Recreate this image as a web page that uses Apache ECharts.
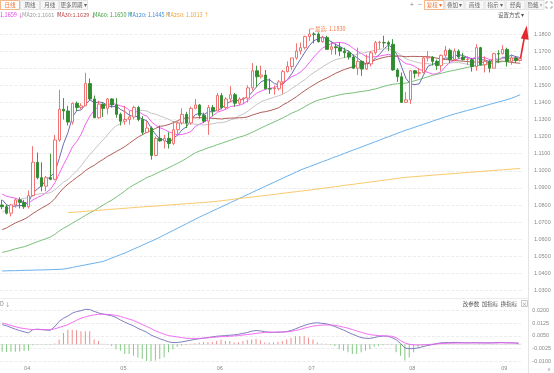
<!DOCTYPE html>
<html><head><meta charset="utf-8">
<script src="https://cdn.jsdelivr.net/npm/echarts@6/dist/echarts.min.js"></script>
<style>html,body{margin:0;padding:0;background:#fff;overflow:hidden}#c{width:554px;height:373px}</style>
</head><body><div id="c"></div>
<script>
// ---------- data (EUR/USD daily) ----------
const dates = [
"2025-03-25","2025-03-26","2025-03-27","2025-03-28","2025-03-31",
"2025-04-01","2025-04-02","2025-04-03","2025-04-04","2025-04-07","2025-04-08","2025-04-09","2025-04-10","2025-04-11","2025-04-14","2025-04-15","2025-04-16","2025-04-17","2025-04-18","2025-04-21","2025-04-22","2025-04-23","2025-04-24","2025-04-25","2025-04-28","2025-04-29","2025-04-30",
"2025-05-01","2025-05-02","2025-05-05","2025-05-06","2025-05-07","2025-05-08","2025-05-09","2025-05-12","2025-05-13","2025-05-14","2025-05-15","2025-05-16","2025-05-19","2025-05-20","2025-05-21","2025-05-22","2025-05-23","2025-05-26","2025-05-27","2025-05-28","2025-05-29","2025-05-30",
"2025-06-02","2025-06-03","2025-06-04","2025-06-05","2025-06-06","2025-06-09","2025-06-10","2025-06-11","2025-06-12","2025-06-13","2025-06-16","2025-06-17","2025-06-18","2025-06-19","2025-06-20","2025-06-23","2025-06-24","2025-06-25","2025-06-26","2025-06-27","2025-06-30",
"2025-07-01","2025-07-02","2025-07-03","2025-07-04","2025-07-07","2025-07-08","2025-07-09","2025-07-10","2025-07-11","2025-07-14","2025-07-15","2025-07-16","2025-07-17","2025-07-18","2025-07-21","2025-07-22","2025-07-23","2025-07-24","2025-07-25","2025-07-28","2025-07-29","2025-07-30","2025-07-31",
"2025-08-01","2025-08-04","2025-08-05","2025-08-06","2025-08-07","2025-08-08","2025-08-11","2025-08-12","2025-08-13","2025-08-14","2025-08-15","2025-08-18","2025-08-19","2025-08-20","2025-08-21","2025-08-22","2025-08-25","2025-08-26","2025-08-27","2025-08-28","2025-08-29",
"2025-09-01","2025-09-02","2025-09-03","2025-09-04","2025-09-05"];

const opens = [
1.0800,1.0790,1.0752,1.0800,1.0830,1.0815,1.0790,1.0855,1.1050,1.0960,
1.0910,1.0960,1.0950,1.1180,1.1360,1.1350,1.1285,1.1395,1.1370,1.1380,
1.1510,1.1420,1.1310,1.1390,1.1365,1.1420,1.1385,1.1330,1.1290,1.1300,
1.1315,1.1370,1.1300,1.1225,1.1250,1.1090,1.1190,1.1175,1.1190,1.1160,
1.1240,1.1280,1.1330,1.1280,1.1365,1.1385,1.1325,1.1290,1.1370,1.1350,
1.1440,1.1370,1.1420,1.1445,1.1395,1.1420,1.1425,1.1485,1.1585,1.1550,
1.1560,1.1480,1.1480,1.1480,1.1520,1.1580,1.1610,1.1660,1.1700,1.1720,
1.1785,1.1800,1.1800,1.1755,1.1780,1.1710,1.1725,1.1720,1.1700,1.1690,
1.1665,1.1600,1.1640,1.1595,1.1625,1.1690,1.1750,1.1750,1.1750,1.1740,
1.1590,1.1550,1.1400,1.1415,1.1585,1.1570,1.1575,1.1660,1.1665,1.1640,
1.1615,1.1675,1.1705,1.1650,1.1700,1.1665,1.1650,1.1650,1.1610,1.1720,
1.1620,1.1640,1.1600,1.1685,1.1685,1.1710,1.1640,1.1660,1.1645];
const highs = [
1.0830,1.0800,1.0805,1.0840,1.0845,1.0830,1.0885,1.1144,1.1107,1.1050,
1.0970,1.1100,1.1210,1.1474,1.1425,1.1380,1.1400,1.1405,1.1395,1.1573,
1.1540,1.1440,1.1410,1.1395,1.1425,1.1425,1.1425,1.1340,1.1380,1.1350,
1.1380,1.1380,1.1320,1.1290,1.1260,1.1200,1.1265,1.1210,1.1225,1.1290,
1.1290,1.1365,1.1345,1.1375,1.1420,1.1390,1.1340,1.1385,1.1385,1.1455,
1.1455,1.1430,1.1495,1.1455,1.1430,1.1430,1.1500,1.1630,1.1615,1.1615,
1.1590,1.1540,1.1500,1.1530,1.1590,1.1640,1.1660,1.1745,1.1750,1.1790,
1.1830,1.1810,1.1810,1.1790,1.1790,1.1760,1.1745,1.1750,1.1720,1.1700,
1.1680,1.1720,1.1645,1.1680,1.1700,1.1760,1.1760,1.1790,1.1760,1.1770,
1.1600,1.1575,1.1460,1.1590,1.1590,1.1600,1.1670,1.1700,1.1670,1.1650,
1.1680,1.1730,1.1715,1.1715,1.1710,1.1690,1.1670,1.1660,1.1740,1.1725,
1.1670,1.1650,1.1690,1.1705,1.1735,1.1720,1.1680,1.1670,1.1660];
const lows = [
1.0775,1.0745,1.0733,1.0785,1.0780,1.0777,1.0780,1.0850,1.0950,1.0880,
1.0880,1.0945,1.0945,1.1170,1.1300,1.1265,1.1270,1.1350,1.1360,1.1380,
1.1410,1.1310,1.1305,1.1315,1.1330,1.1370,1.1310,1.1265,1.1270,1.1270,
1.1300,1.1290,1.1210,1.1220,1.1065,1.1085,1.1170,1.1130,1.1130,1.1150,
1.1210,1.1270,1.1250,1.1270,1.1360,1.1305,1.1280,1.1210,1.1320,1.1350,
1.1360,1.1360,1.1400,1.1375,1.1385,1.1390,1.1400,1.1470,1.1490,1.1540,
1.1475,1.1450,1.1445,1.1470,1.1450,1.1575,1.1590,1.1650,1.1680,1.1710,
1.1760,1.1745,1.1750,1.1750,1.1710,1.1680,1.1680,1.1670,1.1660,1.1650,
1.1595,1.1560,1.1555,1.1590,1.1610,1.1680,1.1710,1.1720,1.1700,1.1585,
1.1520,1.1400,1.1400,1.1390,1.1540,1.1550,1.1570,1.1640,1.1615,1.1590,
1.1585,1.1665,1.1630,1.1640,1.1655,1.1645,1.1620,1.1580,1.1585,1.1615,
1.1575,1.1575,1.1600,1.1630,1.1680,1.1610,1.1620,1.1630,1.1640];
const closes = [
1.0790,1.0752,1.0800,1.0830,1.0815,1.0790,1.0855,1.1050,1.0960,1.0910,
1.0960,1.0950,1.1180,1.1360,1.1350,1.1285,1.1395,1.1370,1.1380,1.1510,
1.1420,1.1310,1.1390,1.1365,1.1420,1.1385,1.1330,1.1290,1.1300,1.1315,
1.1370,1.1300,1.1225,1.1250,1.1090,1.1190,1.1175,1.1190,1.1160,1.1240,
1.1280,1.1330,1.1280,1.1365,1.1385,1.1325,1.1290,1.1370,1.1350,1.1440,
1.1370,1.1420,1.1445,1.1395,1.1420,1.1425,1.1485,1.1585,1.1550,1.1560,
1.1480,1.1478,1.1482,1.1520,1.1580,1.1610,1.1660,1.1700,1.1720,1.1785,
1.1800,1.1798,1.1755,1.1780,1.1710,1.1725,1.1720,1.1700,1.1690,1.1665,
1.1600,1.1640,1.1595,1.1625,1.1690,1.1750,1.1752,1.1748,1.1740,1.1590,
1.1550,1.1400,1.1415,1.1585,1.1570,1.1575,1.1660,1.1665,1.1640,1.1615,
1.1675,1.1705,1.1650,1.1700,1.1665,1.1650,1.1652,1.1610,1.1720,1.1620,
1.1640,1.1600,1.1685,1.1683,1.1710,1.1640,1.1660,1.1645,1.1655];

const ma5 = [
1.0831,1.0801,1.0791,1.0794,1.0797,1.0797,1.0818,1.0868,1.0894,1.0913,
1.0947,1.0966,1.0992,1.1072,1.1160,1.1225,1.1314,1.1352,1.1356,1.1388,
1.1415,1.1398,1.1402,1.1399,1.1381,1.1374,1.1378,1.1358,1.1345,1.1324,
1.1321,1.1315,1.1302,1.1292,1.1247,1.1211,1.1186,1.1179,1.1161,1.1191,
1.1209,1.1240,1.1258,1.1299,1.1328,1.1337,1.1329,1.1347,1.1344,1.1355,
1.1364,1.1390,1.1405,1.1414,1.1410,1.1421,1.1434,1.1462,1.1493,1.1521,
1.1532,1.1531,1.1510,1.1504,1.1508,1.1534,1.1570,1.1614,1.1654,1.1695,
1.1733,1.1761,1.1772,1.1784,1.1769,1.1754,1.1738,1.1727,1.1709,1.1700,
1.1675,1.1659,1.1638,1.1625,1.1630,1.1660,1.1682,1.1713,1.1736,1.1716,
1.1676,1.1606,1.1539,1.1508,1.1504,1.1509,1.1561,1.1611,1.1622,1.1631,
1.1651,1.1660,1.1657,1.1669,1.1679,1.1674,1.1663,1.1655,1.1659,1.1650,
1.1648,1.1638,1.1653,1.1646,1.1664,1.1664,1.1676,1.1668,1.1662];
const ma10 = [
1.0864,1.0851,1.0845,1.0840,1.0830,1.0814,1.0810,1.0830,1.0844,1.0855,
1.0872,1.0892,1.0930,1.0983,1.1037,1.1086,1.1140,1.1172,1.1214,1.1274,
1.1320,1.1356,1.1377,1.1378,1.1385,1.1395,1.1388,1.1380,1.1372,1.1353,
1.1348,1.1347,1.1330,1.1319,1.1286,1.1266,1.1251,1.1241,1.1227,1.1219,
1.1210,1.1213,1.1219,1.1230,1.1260,1.1273,1.1285,1.1303,1.1322,1.1342,
1.1351,1.1360,1.1376,1.1379,1.1383,1.1393,1.1412,1.1434,1.1454,1.1466,
1.1477,1.1483,1.1486,1.1499,1.1515,1.1533,1.1551,1.1562,1.1579,1.1602,
1.1634,1.1666,1.1693,1.1719,1.1732,1.1744,1.1750,1.1750,1.1747,1.1735,
1.1715,1.1699,1.1683,1.1667,1.1665,1.1668,1.1671,1.1676,1.1681,1.1673,
1.1668,1.1644,1.1626,1.1622,1.1610,1.1593,1.1584,1.1575,1.1565,1.1568,
1.1580,1.1611,1.1634,1.1646,1.1655,1.1663,1.1662,1.1656,1.1664,1.1665,
1.1661,1.1651,1.1654,1.1653,1.1657,1.1656,1.1657,1.1661,1.1659];
const ma20 = [
1.0759,1.0772,1.0792,1.0815,1.0832,1.0840,1.0843,1.0857,1.0863,1.0867,
1.0868,1.0872,1.0888,1.0912,1.0934,1.0950,1.0975,1.1001,1.1029,1.1065,
1.1096,1.1124,1.1154,1.1181,1.1211,1.1241,1.1264,1.1276,1.1293,1.1314,
1.1334,1.1352,1.1354,1.1349,1.1336,1.1331,1.1320,1.1311,1.1300,1.1286,
1.1279,1.1280,1.1275,1.1275,1.1273,1.1270,1.1268,1.1272,1.1275,1.1281,
1.1281,1.1287,1.1298,1.1305,1.1322,1.1333,1.1349,1.1369,1.1388,1.1404,
1.1414,1.1422,1.1431,1.1439,1.1449,1.1463,1.1482,1.1498,1.1517,1.1534,
1.1556,1.1575,1.1590,1.1609,1.1624,1.1639,1.1651,1.1656,1.1663,1.1669,
1.1675,1.1683,1.1688,1.1693,1.1699,1.1706,1.1711,1.1713,1.1714,1.1704,
1.1692,1.1672,1.1655,1.1645,1.1638,1.1631,1.1628,1.1626,1.1623,1.1621,
1.1624,1.1628,1.1630,1.1634,1.1633,1.1628,1.1623,1.1616,1.1615,1.1617,
1.1621,1.1631,1.1644,1.1650,1.1656,1.1660,1.1660,1.1659,1.1661];
const ma30 = [
1.0656,1.0666,1.0681,1.0695,1.0706,1.0717,1.0732,1.0750,1.0767,1.0782,
1.0796,1.0812,1.0838,1.0871,1.0900,1.0922,1.0942,1.0962,1.0980,1.1002,
1.1019,1.1033,1.1051,1.1067,1.1084,1.1098,1.1113,1.1127,1.1143,1.1161,
1.1180,1.1198,1.1212,1.1227,1.1236,1.1249,1.1260,1.1264,1.1271,1.1282,
1.1293,1.1305,1.1309,1.1309,1.1310,1.1311,1.1308,1.1308,1.1307,1.1305,
1.1303,1.1307,1.1308,1.1309,1.1310,1.1311,1.1316,1.1326,1.1334,1.1342,
1.1346,1.1352,1.1360,1.1369,1.1386,1.1400,1.1416,1.1433,1.1452,1.1470,
1.1487,1.1503,1.1518,1.1532,1.1543,1.1557,1.1571,1.1582,1.1593,1.1601,
1.1609,1.1616,1.1621,1.1628,1.1637,1.1648,1.1657,1.1663,1.1669,1.1670,
1.1672,1.1670,1.1667,1.1669,1.1669,1.1668,1.1668,1.1667,1.1664,1.1659,
1.1654,1.1651,1.1648,1.1645,1.1643,1.1641,1.1639,1.1636,1.1637,1.1635,
1.1636,1.1635,1.1638,1.1640,1.1641,1.1637,1.1634,1.1631,1.1629];
const ma60 = [
1.0523,1.0528,1.0536,1.0544,1.0550,1.0556,1.0565,1.0575,1.0585,1.0594,
1.0603,1.0613,1.0629,1.0648,1.0665,1.0678,1.0694,1.0709,1.0724,1.0740,
1.0754,1.0768,1.0784,1.0799,1.0815,1.0829,1.0847,1.0864,1.0883,1.0903,
1.0918,1.0932,1.0946,1.0961,1.0971,1.0983,1.0996,1.1007,1.1019,1.1032,
1.1044,1.1058,1.1073,1.1090,1.1105,1.1116,1.1125,1.1135,1.1143,1.1153,
1.1161,1.1170,1.1179,1.1188,1.1197,1.1204,1.1214,1.1226,1.1238,1.1251,
1.1263,1.1275,1.1286,1.1298,1.1311,1.1324,1.1338,1.1348,1.1361,1.1376,
1.1390,1.1404,1.1413,1.1420,1.1426,1.1434,1.1439,1.1445,1.1450,1.1453,
1.1456,1.1461,1.1464,1.1468,1.1473,1.1479,1.1486,1.1494,1.1501,1.1506,
1.1509,1.1511,1.1513,1.1519,1.1527,1.1534,1.1542,1.1550,1.1558,1.1564,
1.1570,1.1577,1.1583,1.1588,1.1593,1.1599,1.1605,1.1609,1.1615,1.1618,
1.1622,1.1625,1.1629,1.1634,1.1639,1.1642,1.1645,1.1647,1.1650];
const ma120 = [
1.0414,1.0415,1.0416,1.0416,1.0417,1.0418,1.0418,1.0419,1.0420,1.0420,
1.0421,1.0422,1.0423,1.0424,1.0425,1.0430,1.0435,1.0440,1.0445,1.0450,
1.0455,1.0460,1.0465,1.0470,1.0480,1.0490,1.0500,1.0510,1.0520,1.0531,
1.0543,1.0554,1.0566,1.0577,1.0589,1.0600,1.0613,1.0626,1.0639,1.0652,
1.0665,1.0678,1.0691,1.0704,1.0717,1.0730,1.0742,1.0754,1.0766,1.0778,
1.0790,1.0802,1.0814,1.0826,1.0838,1.0850,1.0862,1.0874,1.0886,1.0898,
1.0910,1.0922,1.0934,1.0946,1.0958,1.0970,1.0981,1.0993,1.1005,1.1015,
1.1024,1.1034,1.1044,1.1054,1.1063,1.1073,1.1083,1.1092,1.1102,1.1112,
1.1122,1.1131,1.1141,1.1151,1.1160,1.1170,1.1180,1.1190,1.1199,1.1209,
1.1219,1.1229,1.1238,1.1246,1.1255,1.1264,1.1272,1.1281,1.1290,1.1299,
1.1307,1.1316,1.1324,1.1332,1.1339,1.1346,1.1353,1.1360,1.1367,1.1374,
1.1381,1.1388,1.1395,1.1402,1.1409,1.1416,1.1424,1.1434,1.1445];
const ma250 = [
'-','-','-','-','-','-','-','-','-','-',
'-','-','-','-','-',1.0755,1.0757,1.0759,1.0761,1.0763,
1.0765,1.0767,1.0769,1.0771,1.0773,1.0775,1.0777,1.0779,1.0781,1.0783,
1.0785,1.0787,1.0789,1.0791,1.0792,1.0794,1.0796,1.0798,1.0800,1.0802,
1.0804,1.0806,1.0808,1.0810,1.0811,1.0813,1.0815,1.0817,1.0819,1.0822,
1.0825,1.0828,1.0831,1.0835,1.0838,1.0841,1.0844,1.0847,1.0850,1.0853,
1.0856,1.0859,1.0862,1.0865,1.0869,1.0872,1.0875,1.0878,1.0881,1.0884,
1.0887,1.0891,1.0894,1.0898,1.0901,1.0904,1.0908,1.0911,1.0915,1.0918,
1.0921,1.0925,1.0928,1.0932,1.0935,1.0938,1.0942,1.0945,1.0949,1.0952,
1.0955,1.0959,1.0962,1.0964,1.0966,1.0968,1.0970,1.0972,1.0974,1.0976,
1.0978,1.0980,1.0982,1.0984,1.0986,1.0988,1.0990,1.0992,1.0994,1.0996,
1.0998,1.1000,1.1002,1.1004,1.1006,1.1008,1.1010,1.1012,1.1013];

const dif = [
0.0117,0.0110,0.0100,0.0090,0.0082,0.0074,0.0068,0.0087,0.0090,0.0088,
0.0085,0.0083,0.0105,0.0136,0.0155,0.0168,0.0185,0.0195,0.0200,0.0208,
0.0207,0.0196,0.0187,0.0180,0.0175,0.0170,0.0160,0.0145,0.0132,0.0120,
0.0110,0.0095,0.0084,0.0072,0.0055,0.0044,0.0033,0.0024,0.0015,0.0010,
0.0011,0.0014,0.0019,0.0024,0.0029,0.0033,0.0036,0.0040,0.0044,0.0048,
0.0050,0.0052,0.0054,0.0056,0.0060,0.0065,0.0070,0.0078,0.0082,0.0080,
0.0075,0.0072,0.0071,0.0072,0.0073,0.0076,0.0082,0.0092,0.0102,0.0112,
0.0120,0.0126,0.0128,0.0125,0.0122,0.0115,0.0106,0.0095,0.0085,0.0072,
0.0060,0.0050,0.0040,0.0036,0.0035,0.0040,0.0046,0.0049,0.0049,0.0040,
0.0028,0.0005,-0.0022,-0.0026,-0.0025,-0.0022,-0.0015,-0.0008,-0.0003,0.0002,
0.0008,0.0010,0.0010,0.0011,0.0011,0.0010,0.0009,0.0009,0.0010,0.0009,
0.0009,0.0008,0.0009,0.0010,0.0011,0.0009,0.0009,0.0008,0.0006];
const dea = [
0.0127,0.0120,0.0112,0.0105,0.0098,0.0094,0.0090,0.0088,0.0088,0.0087,
0.0087,0.0087,0.0092,0.0100,0.0108,0.0117,0.0130,0.0143,0.0155,0.0163,
0.0170,0.0175,0.0178,0.0179,0.0178,0.0176,0.0172,0.0166,0.0158,0.0150,
0.0142,0.0130,0.0118,0.0106,0.0094,0.0080,0.0070,0.0060,0.0052,0.0048,
0.0044,0.0040,0.0036,0.0035,0.0035,0.0035,0.0037,0.0039,0.0042,0.0043,
0.0045,0.0046,0.0048,0.0050,0.0052,0.0055,0.0058,0.0061,0.0065,0.0068,
0.0071,0.0072,0.0072,0.0073,0.0073,0.0074,0.0077,0.0082,0.0088,0.0096,
0.0102,0.0108,0.0112,0.0114,0.0115,0.0115,0.0113,0.0108,0.0102,0.0096,
0.0088,0.0080,0.0072,0.0064,0.0058,0.0054,0.0052,0.0050,0.0049,0.0048,
0.0040,0.0022,0.0008,0.0000,-0.0003,-0.0004,-0.0003,-0.0002,0.0000,0.0002,
0.0004,0.0005,0.0006,0.0007,0.0007,0.0008,0.0008,0.0008,0.0008,0.0008,
0.0008,0.0008,0.0008,0.0008,0.0009,0.0009,0.0008,0.0008,0.0007];
const macdHist = [
-0.0045,-0.0046,-0.0045,-0.0044,-0.0043,-0.0040,-0.0038,-0.0005,-0.0002,0.0002,
-0.0003,-0.0003,0.0005,0.0029,0.0068,0.0087,0.0087,0.0083,0.0078,0.0078,
0.0078,0.0029,0.0019,0.0004,0.0002,-0.0010,-0.0029,-0.0039,-0.0058,-0.0058,
-0.0068,-0.0078,-0.0087,-0.0107,-0.0102,-0.0097,-0.0087,-0.0078,-0.0048,-0.0029,
-0.0015,-0.0008,-0.0004,0.0003,0.0006,0.0010,0.0012,0.0012,0.0015,0.0019,
0.0029,0.0019,0.0019,0.0010,0.0012,0.0019,0.0025,0.0029,0.0033,0.0024,
0.0010,0.0010,0.0010,0.0015,0.0020,0.0029,0.0039,0.0048,0.0048,0.0048,
0.0039,0.0029,0.0010,0.0005,0.0003,-0.0002,-0.0010,-0.0029,-0.0039,-0.0048,
-0.0058,-0.0058,-0.0048,-0.0039,-0.0029,-0.0015,-0.0010,-0.0005,-0.0003,-0.0003,
-0.0048,-0.0068,-0.0097,-0.0078,-0.0048,-0.0019,-0.0008,-0.0003,0.0002,0.0003,
0.0004,0.0003,0.0004,0.0003,0.0002,0.0003,0.0002,0.0001,0.0002,0.0003,
0.0002,0.0001,0.0002,0.0003,0.0004,0.0002,0.0001,0.0001,-0.0001];

// legend / toolbar texts
const maLegend = [
  {text:'1.1659', arrow:'↓', color:'#e040e0', x:0},
  {text:'MA20:1.1661', arrow:'↑', color:'#9a9a9a', x:22},
  {text:'MA30:1.1629', arrow:'↓', color:'#c04a4a', x:57},
  {text:'MA60: 1.1650', arrow:'↑', color:'#3f9f3f', x:93},
  {text:'MA120: 1.1445', arrow:'↑', color:'#3a8ad8', x:128},
  {text:'MA250: 1.1013', arrow:'↑', color:'#f0a030', x:166}
];
const periodTabs = ['日线','周线','月线','更多周期 ▾'];
const toolTabs = ['复权 ▾','叠加 ▾','画线','指示 ▾','经典','隐藏 »'];
const macdTools = ['改参数','加指标','换指标'];

// ---------- chart ----------
const FONT = '"Noto Sans CJK SC","Liberation Sans",sans-serif';
const chart = echarts.init(document.getElementById('c'), null, {renderer:'canvas'});
const candleData = opens.map((o,i)=>[o, closes[i], lows[i], highs[i]]);
const monthStart = (i) => i > 0 && dates[i].slice(5,7) !== dates[i-1].slice(5,7);

function txt(x, y, text, fill, size, align){
  return {type:'text', x:x, y:y, silent:true, z:100,
    style:{text:text, fill:fill, font: (size||5.5)+'px '+FONT,
      textAlign:align||'left', textVerticalAlign:'middle', align:align||'left', verticalAlign:'middle'}};
}
function box(x, y, w, h, stroke, fill){
  return {type:'rect', silent:true, z:99, shape:{x:x, y:y, width:w, height:h},
    style:{fill:fill||'#f7f7f7', stroke:stroke||'#dcdcdc', lineWidth:0.8}};
}
function seg(x1,y1,x2,y2,stroke,w){
  return {type:'line', silent:true, z:98, shape:{x1:x1,y1:y1,x2:x2,y2:y2}, style:{stroke:stroke, lineWidth:w||1}};
}

const graphics = [];
graphics.push(seg(528.5, 11, 528.5, 373, '#e4e4e4', 1));
graphics.push(seg(0, 298.5, 528, 298.5, '#ececec', 1));
const tabX = [[0.5,19],[20.5,19],[40.5,18.5],[59.5,28]];
periodTabs.forEach((t,i)=>{
  const [x,w] = tabX[i];
  const sel = i===0;
  graphics.push(box(x, 0.5, w, 9, sel?'#f4a46a':'#dcdcdc', sel?'#fff':'#f7f7f7'));
  graphics.push(txt(x+w/2, 5, t, sel?'#f07030':'#666', 5.5, 'center'));
});
graphics.push(txt(412, 4.8, '+', '#888', 7, 'center'));
graphics.push(txt(420, 4.8, '−', '#888', 7, 'center'));
const toolX = [[424.5,19.5],[445,19],[465,19],[485,20],[506,19],[526,18]];
toolTabs.forEach((t,i)=>{
  const [x,w] = toolX[i];
  const sel = i===0;
  graphics.push(box(x, 0.5, w, 9, sel?'#f4a46a':'#dcdcdc', sel?'#fff':'#f7f7f7'));
  graphics.push(txt(x+w/2, 5, t, sel?'#f07030':'#666', 5.5, 'center'));
});
[[546,2,546,4],[546,2,548,2],[552,2,550,2],[552,2,552,4],[546,8,546,6],[546,8,548,8],[552,8,550,8],[552,8,552,6]]
  .forEach(s=>graphics.push(seg(s[0],s[1],s[2],s[3],'#999',0.8)));
maLegend.forEach(m=>{
  graphics.push({type:'text', x:m.x, y:14.7, silent:true, z:100,
    style:{text:m.text+' '+m.arrow, fill:m.color, font:'5.5px '+FONT, textVerticalAlign:'middle', verticalAlign:'middle'}});
});
graphics.push(txt(511, 14.7, '设置方式 ▾', '#555', 5.5, 'center'));
graphics.push(txt(0, 303.5, 'D ↓', '#888', 5.5));
const mtX = [471, 490, 509];
macdTools.forEach((t,i)=>graphics.push(txt(mtX[i], 303.5, t, '#555', 5.5, 'center')));
graphics.push(box(521.5, 300.5, 6, 6, '#bbb', '#fff'));
graphics.push(txt(524.5, 303.5, '×', '#888', 5.5, 'center'));
graphics.push(txt(549, 368.5, '»', '#999', 7, 'center'));
graphics.push({type:'line', silent:true, z:101, shape:{x1:520.5, y1:58.5, x2:524.6, y2:36}, style:{stroke:'#e8262d', lineWidth:1.6}});
graphics.push({type:'polygon', silent:true, z:101, shape:{points:[[526.8,25.5],[520.8,38.5],[528.6,39.8]]}, style:{fill:'#e8262d'}});

const axisLabelStyle = {color:'#8a8a8a', fontSize:5.5, fontFamily:'"Liberation Sans",sans-serif'};
function maLine(name, data, color){
  return {name:name, type:'line', xAxisIndex:0, yAxisIndex:0, data:data, showSymbol:false, symbol:'none',
    lineStyle:{color:color, width:0.9}, itemStyle:{color:color}, silent:true, z:3};
}

const option = {
  animation:false,
  backgroundColor:'#fff',
  tooltip:{show:false},
  grid:[
    {left:-1.2, right:31.6, top:16.9, bottom:82.5},
    {left:-1.2, right:31.6, top:310.7, bottom:11.9}
  ],
  xAxis:[
    {type:'category', gridIndex:0, data:dates, boundaryGap:true,
      axisLine:{show:false}, axisTick:{show:false}, axisLabel:{show:false}, splitLine:{show:false}},
    {type:'category', gridIndex:1, data:dates, boundaryGap:true,
      axisLine:{show:true, lineStyle:{color:'#e6e6e6'}}, axisTick:{show:false},
      axisLabel:Object.assign({show:true, interval:(i)=>monthStart(i), formatter:(v)=>v.slice(5,7), align:'left', margin:4.5}, axisLabelStyle),
      splitLine:{show:false}}
  ],
  yAxis:[
    {type:'value', gridIndex:0, position:'right', min:1.03, max:1.19, interval:0.01, scale:true,
      axisLine:{show:false}, axisTick:{show:false},
      axisLabel:Object.assign({formatter:(v)=>v.toFixed(4), margin:11.5, showMaxLabel:false}, axisLabelStyle),
      splitLine:{show:true, showMaxLine:false, lineStyle:{color:'#e9e9e9', type:'dashed', width:0.8}}},
    {type:'value', gridIndex:1, position:'right', min:-0.01, max:0.02, interval:0.0075,
      axisLine:{show:false}, axisTick:{show:false},
      axisLabel:Object.assign({formatter:(v)=>v.toFixed(4), margin:11.5}, axisLabelStyle),
      splitLine:{show:true, lineStyle:{color:'#e9e9e9', type:'dashed', width:0.8}}}
  ],
  series:[
    {name:'K', type:'candlestick', xAxisIndex:0, yAxisIndex:0, data:candleData, barWidth:3, z:4,
      itemStyle:{color:'#ffffff', color0:'#2e8b2e', borderColor:'#f06464', borderColor0:'#2e8b2e', borderWidth:0.9},
      markPoint:{silent:true, symbol:'rect', symbolSize:[4,0.7], symbolOffset:[2.5,0],
        itemStyle:{color:'#f08050'},
        label:{show:true, position:'right', distance:1, color:'#f07a48', fontSize:5.5, fontFamily:FONT,
          formatter:(p)=>'最高: '+Number(p.value).toFixed(4)},
        data:[{type:'max', valueDim:'highest'}]}},
    maLine('MA5', ma5, '#5a5aa8'),
    maLine('MA10', ma10, '#f050f0'),
    maLine('MA20', ma20, '#bdbdbd'),
    maLine('MA30', ma30, '#a84c46'),
    maLine('MA60', ma60, '#6cb86c'),
    maLine('MA120', ma120, '#5aa8e8'),
    maLine('MA250', ma250, '#f8c35a'),
    {name:'MACD', type:'bar', xAxisIndex:1, yAxisIndex:1, data:macdHist, barWidth:1, silent:true,
      itemStyle:{color:(p)=>p.value>=0?'#f08c8c':'#86c886'}},
    {name:'DIF', type:'line', xAxisIndex:1, yAxisIndex:1, data:dif, showSymbol:false, symbol:'none', clip:false,
      lineStyle:{color:'#7070b8', width:0.9}, silent:true},
    {name:'DEA', type:'line', xAxisIndex:1, yAxisIndex:1, data:dea, showSymbol:false, symbol:'none', clip:false,
      lineStyle:{color:'#f060f0', width:0.9}, silent:true}
  ],
  graphic:graphics
};
chart.setOption(option);
</script></body></html>
